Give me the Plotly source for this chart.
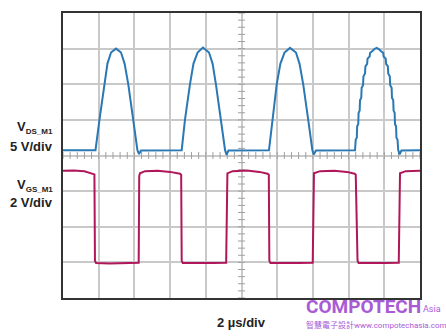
import plotly.graph_objects as go
import numpy as np

# ---- data (time in µs, value in screen divisions) ----
BASE = 4.15
P1_T = [1.82, 2.04, 2.30, 2.49, 2.69, 2.97, 3.25, 3.45, 3.66, 3.94, 4.17, 4.26, 4.37]
P1_V = [4.15, 4.99, 5.99, 6.58, 6.89, 7.00, 6.89, 6.58, 5.99, 4.99, 4.15, 4.04, 4.14]
P2_T = [6.65, 6.83, 7.11, 7.31, 7.54, 7.84, 8.18, 8.38, 8.57, 8.83, 9.08, 9.16, 9.27]
P2_V = [4.15, 4.99, 5.99, 6.58, 6.89, 7.03, 6.89, 6.58, 5.99, 4.99, 4.15, 4.02, 4.14]
P3_T = [11.54, 11.75, 11.97, 12.18, 12.41, 12.72, 13.05, 13.25, 13.46, 13.74, 13.97, 14.05, 14.17]
P3_V = [4.15, 4.99, 5.99, 6.58, 6.89, 7.02, 6.89, 6.58, 5.99, 4.99, 4.15, 4.03, 4.14]
P4_T = [16.36, 16.40, 16.46, 16.48, 16.54, 16.56, 16.62, 16.64, 16.71, 16.73, 16.81, 16.83,
        16.92, 16.94, 17.04, 17.06, 17.18, 17.20, 17.35, 17.45, 17.57,
        17.69, 17.79, 17.94, 17.96, 18.08, 18.10, 18.20, 18.22, 18.31, 18.33, 18.41, 18.43,
        18.50, 18.52, 18.58, 18.60, 18.66, 18.68, 18.74, 18.78, 18.86, 18.96]
P4_V = [4.15, 4.45, 4.50, 4.82, 4.88, 5.20, 5.26, 5.55, 5.62, 5.90, 5.97, 6.22,
        6.30, 6.50, 6.57, 6.72, 6.78, 6.88, 6.94, 6.99, 7.02,
        6.99, 6.94, 6.88, 6.78, 6.72, 6.57, 6.50, 6.30, 6.22, 5.97, 5.90, 5.62,
        5.55, 5.26, 5.20, 4.88, 4.82, 4.50, 4.45, 4.15, 4.03, 4.14]

VGS_T = [0.0, 0.6, 1.2, 1.68, 1.76, 1.79, 1.85, 2.6, 3.4, 4.24,
         4.27, 4.31, 4.6, 5.3, 6.0, 6.55, 6.62, 6.65, 6.71, 7.5,
         8.4, 9.14, 9.17, 9.21, 9.5, 10.3, 11.0, 11.46, 11.53, 11.56,
         11.62, 12.4, 13.2, 13.99, 14.02, 14.06, 14.4, 15.2, 15.9, 16.34,
         16.40, 16.50, 16.56, 17.3, 18.1, 18.81, 18.84, 18.88, 19.2, 20.0]
VGS_V = [3.57, 3.58, 3.56, 3.50, 3.47, 1.05, 0.98, 0.97, 0.98, 0.99,
         3.42, 3.50, 3.56, 3.57, 3.54, 3.49, 3.46, 1.05, 0.98, 0.97,
         0.98, 0.99, 3.42, 3.50, 3.56, 3.58, 3.54, 3.49, 3.46, 1.05,
         0.98, 0.97, 0.98, 0.99, 3.42, 3.50, 3.56, 3.57, 3.54, 3.49,
         3.46, 1.05, 0.98, 0.97, 0.98, 0.99, 3.42, 3.50, 3.56, 3.57]

VDS_T = [0.0] + P1_T + P2_T + P3_T + P4_T + [20.0]
VDS_V = [BASE] + P1_V + P2_V + P3_V + P4_V + [BASE]

BLUE = "#2a78b4"
MAG = "#b0175a"
GRID = "#c9c9c9"

fig = go.Figure()

# centre crosshair minor ticks
tx = np.arange(0, 20.01, 0.4)
ty = np.arange(0, 8.001, 0.2)
fig.add_trace(go.Scatter(x=tx, y=[4] * len(tx), mode="markers",
                         marker=dict(symbol="line-ns", size=5, line=dict(width=1, color="#a0a0a0")),
                         hoverinfo="skip", showlegend=False))
fig.add_trace(go.Scatter(x=[10] * len(ty), y=ty, mode="markers",
                         marker=dict(symbol="line-ew", size=5, line=dict(width=1, color="#a0a0a0")),
                         hoverinfo="skip", showlegend=False))

fig.add_trace(go.Scatter(x=VDS_T, y=VDS_V, mode="lines",
                         line=dict(color=BLUE, width=2), showlegend=False))
fig.add_trace(go.Scatter(x=VGS_T, y=VGS_V, mode="lines",
                         line=dict(color=MAG, width=2), showlegend=False))

axis_common = dict(showgrid=True, gridcolor=GRID, gridwidth=1.5, zeroline=False,
                   showticklabels=False, ticks="", showline=True, mirror=True,
                   linecolor="#333333", linewidth=1.5, fixedrange=True)
fig.update_xaxes(range=[0, 20], dtick=2, tick0=0, **axis_common)
fig.update_yaxes(range=[0, 8], dtick=1, tick0=0, **axis_common)

LBL = dict(family="Liberation Sans, Arial, sans-serif", size=13, color="#222222")
SUB = "<span style='font-size:8px'>{}</span>"
ann = [
    dict(text="<b>V<sub>" + SUB.format("DS_M1") + "</sub></b>", x=-0.022, y=0.6, xanchor="right", yanchor="middle"),
    dict(text="<b>5 V/div</b>", x=-0.022, y=0.533, xanchor="right", yanchor="middle"),
    dict(text="<b>V<sub>" + SUB.format("GS_M1") + "</sub></b>", x=-0.022, y=0.393, xanchor="right", yanchor="middle"),
    dict(text="<b>2 V/div</b>", x=-0.022, y=0.336, xanchor="right", yanchor="middle"),
    dict(text="<b>2 µs/div</b>", x=0.5, y=-0.087, xanchor="center", yanchor="middle"),
]
for a in ann:
    fig.add_annotation(xref="paper", yref="paper", showarrow=False, font=LBL, **a)

WM = "#a95bd6"
fig.add_annotation(xref="paper", yref="paper", showarrow=False, text="<b>COMPOTECH</b>",
                   x=0.676, y=-0.03, xanchor="left", yanchor="middle",
                   font=dict(family="Roboto, sans-serif", size=19, color=WM))
fig.add_annotation(xref="paper", yref="paper", showarrow=False, text="Asia",
                   x=1.003, y=-0.04, xanchor="left", yanchor="middle",
                   font=dict(family="Roboto, sans-serif", size=9, color=WM))
fig.add_annotation(xref="paper", yref="paper", showarrow=False,
                   text="智慧電子設計www.compotechasia.com",
                   x=0.676, y=-0.094, xanchor="left", yanchor="middle",
                   font=dict(family="Roboto, Noto Sans CJK TC, sans-serif", size=8, color=WM))

fig.update_layout(width=446, height=336, margin=dict(l=63, r=26, t=11, b=38),
                  paper_bgcolor="white", plot_bgcolor="white")

fig.write_html("out.html", config={"displayModeBar": False})
